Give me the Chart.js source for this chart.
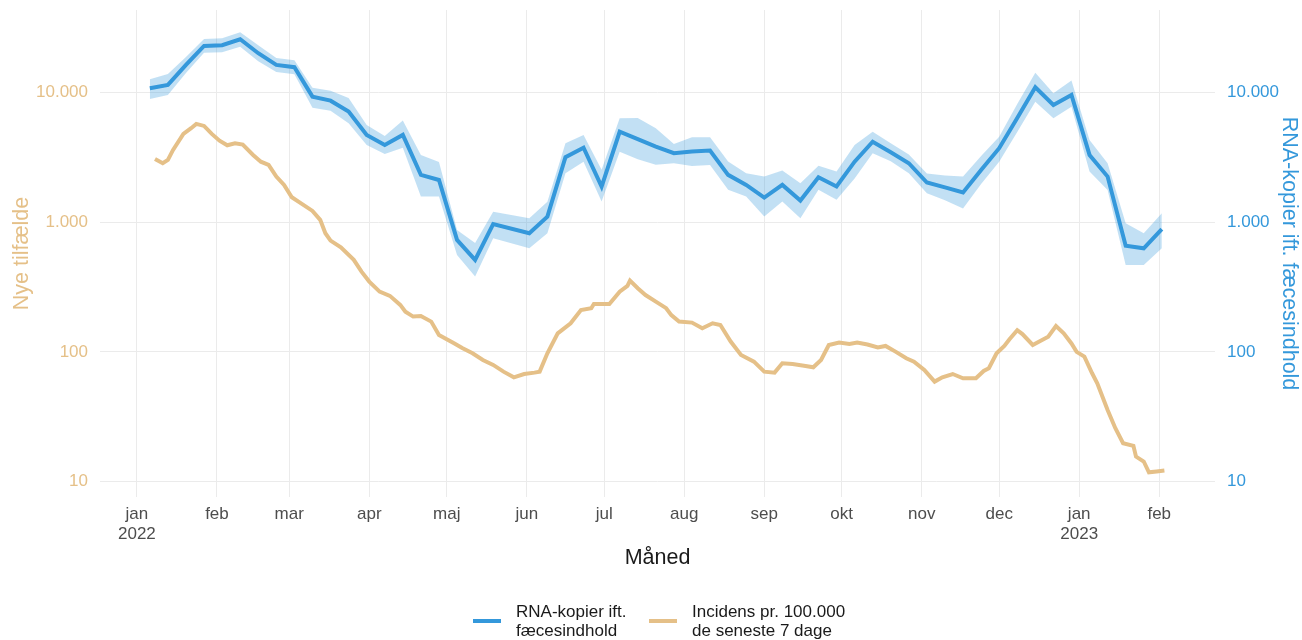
<!DOCTYPE html>
<html>
<head>
<meta charset="utf-8">
<script src="https://cdn.jsdelivr.net/npm/chart.js@4.4.1/dist/chart.umd.min.js"></script>
<style>
  html, body { margin: 0; padding: 0; background: #fff; }
  #wrap { width: 1302px; height: 640px; }
</style>
</head>
<body>
<div id="wrap"><canvas id="chart" width="1302" height="640"></canvas></div>
<script>
// days counted from 1 jan 2022
const monthDays = [0, 31, 59, 90, 120, 151, 181, 212, 243, 273, 304, 334, 365, 396];
const monthNames = ["jan", "feb", "mar", "apr", "maj", "jun", "jul", "aug", "sep", "okt", "nov", "dec", "jan", "feb"];
const yearLabels = { 0: "2022", 12: "2023" };
const yTicks = [10, 100, 1000, 10000];

// RNA copies (weekly) with confidence band
const blueDays = [5,12,19,26,33,40,47,54,61,68,75,82,89,96,103,110,117,124,131,138,
  152,159,166,173,180,187,194,201,208,215,222,229,236,243,250,257,264,271,278,285,
  292,299,306,313,320,327,334,341,348,355,362,369,376,383,390,397];
const blueValues = [10740,11380,16220,22750,23010,25580,19970,16230,15580,9250,
  8610,7090,4690,3930,4690,2310,2110,728,511,966,
  820,1100,3160,3740,1877,4960,4350,3810,3390,3490,
  3550,2310,1933,1543,1933,1463,2215,1877,2917,4160,
  3450,2840,2015,1849,1688,2517,3705,6340,10930,7980,
  9530,3290,2240,658,628,881];
const blueUpper = [12600,13830,18690,25750,26050,28960,23000,18370,17640,10850,
  10280,9040,5600,4610,6050,3290,2900,870,691,1200,
  1070,1435,4050,4680,2525,6290,6320,5280,4000,4505,
  4500,2925,2380,2240,2490,1990,2720,2450,3925,4967,
  4047,3310,2370,2287,2242,3227,4550,8130,14130,9820,
  12290,4290,2840,979,820,1170];
const blueLower = [8880,9530,14080,20100,20330,22400,17340,14340,13760,7610,
  7210,5770,3930,3350,3730,1570,1570,558,380,750,
  628,818,2380,2920,1438,3480,3050,2760,2840,2703,
  2755,1770,1570,1101,1437,1071,1770,1483,2169,3388,
  2941,2378,1668,1469,1273,1963,2920,4945,8450,6300,
  7740,2446,1767,467,467,629];

// incidence per 100.000, last 7 days
const incDays = [7,10,12,14,18,21,23,26,29,32,35,38,41,45,48,51,54,57,60,63,
  68,71,73,75,79,84,87,90,94,98,102,104,107,110,114,117,123,126,130,134,
  138,142,146,150,154,156,159,163,168,172,176,177,183,187,190,191,194,197,201,205,
  207,210,215,219,223,226,230,234,239,243,247,250,254,259,262,265,268,272,276,279,
  283,287,290,294,298,301,305,309,312,316,320,325,328,330,333,336,338,341,343,347,
  353,356,359,362,364,367,370,372,376,379,382,386,387,390,392,395,398];
const incValues = [3062,2838,3008,3594,4775,5284,5704,5500,4775,4237,
  3906,4047,3947,3288,2918,2754,2238,1931,1553,1416,
  1218,1039,820,719,638,511,415,348,291,270,
  230,204,187,189,171,135,116,107,97.5,86.6,
  79.3,70.4,63.7,67.5,69.2,70.4,97.5,139,166,210,
  217,234,234,291,322,354,309,274,244,217,
  192,171,168,152,166,161,120,94.7,84.1,70.4,
  69.2,81.7,80.7,77.9,76.1,86.6,113,118,115,118,
  114,108,111,100,89.3,84.1,72.6,59,63.7,67.5,
  62.6,62.6,71.3,74.8,97.5,111,125,147,137,113,
  131,158,139,116,100,91.9,68.4,57.3,35.7,25.8,
  19.8,18.9,15.6,14.3,11.8,12.0,12.2];

const BLUE = "#3498db";
const BAND = "rgba(52,152,219,0.3)";
const TAN = "#e5c088";
const GRID = "#ebebeb";
const FONT = "'Liberation Sans', Arial, sans-serif";

const pts = (xs, ys) => xs.map((x, i) => ({ x: x, y: ys[i] }));
const fmt = v => String(v).replace(/\B(?=(\d{3})+(?!\d))/g, ".");

const legendItems = [
  { color: BLUE, lines: ["RNA-kopier ift.", "fæcesindhold"], x: 473 },
  { color: TAN, lines: ["Incidens pr. 100.000", "de seneste 7 dage"], x: 649 }
];

const bottomLegend = {
  id: "bottomLegend",
  afterDraw(chart) {
    const ctx = chart.ctx;
    ctx.save();
    ctx.font = "17px " + FONT;
    ctx.textBaseline = "middle";
    ctx.textAlign = "left";
    legendItems.forEach(item => {
      ctx.strokeStyle = item.color;
      ctx.lineWidth = 4;
      ctx.beginPath();
      ctx.moveTo(item.x, 621);
      ctx.lineTo(item.x + 28, 621);
      ctx.stroke();
      ctx.fillStyle = "#1a1a1a";
      item.lines.forEach((t, i) => ctx.fillText(t, item.x + 43, 612.5 + i * 18.5));
    });
    ctx.restore();
  }
};

const yAxis = (pos, color, title, width) => ({
  type: "logarithmic",
  position: pos,
  min: 7.62,
  max: 43000,
  grid: { display: pos === "left", color: GRID, lineWidth: 1, drawTicks: false },
  border: { display: false },
  afterBuildTicks: s => { s.ticks = yTicks.map(v => ({ value: v })); },
  afterFit: s => {
    s.width = width;
    s.paddingTop = 0;
    s.paddingBottom = 0;
  },
  ticks: {
    color: color,
    padding: 12,
    font: { family: FONT, size: 17 },
    callback: v => fmt(v)
  },
  title: {
    display: true,
    text: title,
    color: color,
    font: { family: FONT, size: 21.5 },
    padding: { top: pos === "left" ? 9 : 0, bottom: 0 }
  }
});

new Chart(document.getElementById("chart"), {
  type: "line",
  data: {
    datasets: [
      {
        label: "RNA-kopier ift. fæcesindhold",
        data: pts(blueDays, blueValues),
        borderColor: BLUE,
        borderWidth: 4,
        pointRadius: 0,
        fill: false,
        yAxisID: "y2"
      },
      {
        label: "upper",
        data: pts(blueDays, blueUpper),
        borderWidth: 0,
        pointRadius: 0,
        backgroundColor: BAND,
        fill: "+1",
        yAxisID: "y2"
      },
      {
        label: "lower",
        data: pts(blueDays, blueLower),
        borderWidth: 0,
        pointRadius: 0,
        fill: false,
        yAxisID: "y2"
      },
      {
        label: "Incidens pr. 100.000 de seneste 7 dage",
        data: pts(incDays, incValues),
        borderColor: TAN,
        borderWidth: 4,
        pointRadius: 0,
        fill: false,
        yAxisID: "y"
      }
    ]
  },
  options: {
    responsive: false,
    devicePixelRatio: 1,
    animation: false,
    layout: { padding: { top: 10, bottom: 55, left: 0, right: 0 } },
    plugins: {
      legend: { display: false },
      tooltip: { enabled: false }
    },
    scales: {
      x: {
        type: "linear",
        min: -14.3,
        max: 417.6,
        grid: { color: GRID, lineWidth: 1, drawTicks: false },
        border: { display: false },
        afterBuildTicks: s => { s.ticks = monthDays.map(v => ({ value: v })); },
        afterFit: s => { s.height = 88; },
        ticks: {
          color: "#4d4d4d",
          padding: 8,
          autoSkip: false,
          maxRotation: 0,
          font: { family: FONT, size: 17, lineHeight: 1.15 },
          callback: (v, i) => yearLabels[i] ? [monthNames[i], yearLabels[i]] : monthNames[i]
        },
        title: {
          display: true,
          text: "Måned",
          color: "#1a1a1a",
          font: { family: FONT, size: 21.5 },
          padding: { top: 0, bottom: 14 }
        }
      },
      y: yAxis("left", TAN, "Nye tilfælde", 100),
      y2: yAxis("right", BLUE, "RNA-kopier ift. fæcesindhold", 87)
    }
  },
  plugins: [bottomLegend]
});
</script>
</body>
</html>
